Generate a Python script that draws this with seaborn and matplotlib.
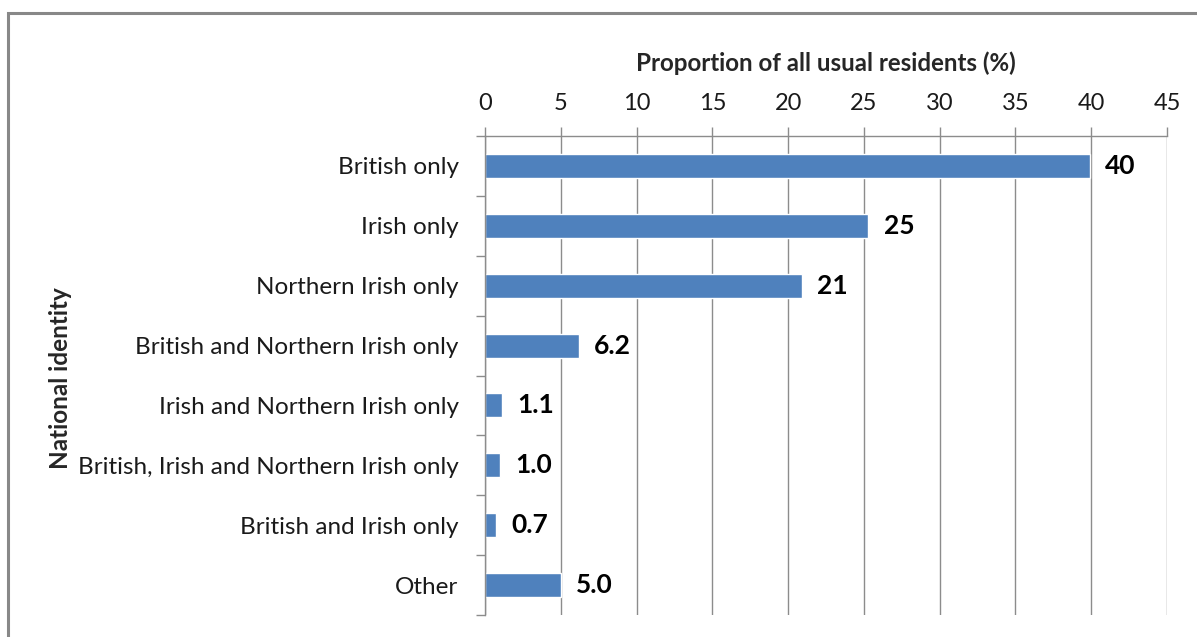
import matplotlib
matplotlib.use("Agg")
import matplotlib.pyplot as plt
import seaborn as sns
import pandas as pd
import numpy as np
from matplotlib.patches import Rectangle

categories = ["British only", "Irish only", "Northern Irish only",
              "British and Northern Irish only", "Irish and Northern Irish only",
              "British, Irish and Northern Irish only", "British and Irish only", "Other"]
values = [39.9, 25.3, 20.9, 6.2, 1.1, 1.0, 0.7, 5.0]
value_labels = ["40", "25", "21", "6.2", "1.1", "1.0", "0.7", "5.0"]
xticks = [0, 5, 10, 15, 20, 25, 30, 35, 40, 45]

sns.set_theme(style="white")
plt.rcParams['font.family'] = ['Lato', 'DejaVu Sans']

df = pd.DataFrame({"identity": categories, "pct": values})

fig = plt.figure(figsize=(11.97, 6.37), dpi=100)
ax = fig.add_axes([485/1197, 1-615/637, (1167-485)/1197, (615-136)/637])

sns.barplot(data=df, x="pct", y="identity", orient="h", color="#4F81BD",
            width=0.4, saturation=1, ax=ax, order=categories)

ax.set_xlim(0, 45)
ax.set_ylim(len(categories)-0.5, -0.5)
ax.set_xticks(xticks)
ax.set_xticklabels([str(t) for t in xticks])
ax.xaxis.tick_top()
ax.xaxis.set_label_position("top")
ax.set_xlabel("Proportion of all usual residents (%)", fontsize=17.4, fontweight="bold", labelpad=16)
ax.set_ylabel("")
ax.grid(axis="x", color="#8c8c8c", linewidth=1.0)
ax.set_axisbelow(True)

for side in ["right", "bottom"]:
    ax.spines[side].set_visible(False)
for side in ["top", "left"]:
    ax.spines[side].set_color("#8c8c8c")
    ax.spines[side].set_linewidth(1.0)

ax.tick_params(axis="x", which="major", direction="out", length=6.5, width=1.0,
               color="#8c8c8c", labelsize=17, pad=9, top=True, bottom=False)
ax.tick_params(axis="y", which="major", length=0, labelsize=17.5, pad=19)
ax.set_yticks(np.arange(-0.5, len(categories)), minor=True)
ax.tick_params(axis="y", which="minor", direction="out", length=6.5, width=1.0,
               color="#8c8c8c", left=True)
for lbl in ax.get_yticklabels() + ax.get_xticklabels():
    lbl.set_color("#1a1a1a")

for i, (v, lab) in enumerate(zip(values, value_labels)):
    ax.annotate(lab, xy=(v, i), xytext=(11, 0), textcoords="offset points",
                ha="left", va="center", fontsize=19, fontweight="bold", color="black")

fig.text(60/1197, 1-378/637, "National identity", rotation=90, ha="center", va="center",
         fontsize=17.5, fontweight="bold")

fig.patches.append(Rectangle((8/1197, -0.1), 1.2, 1-13/637+0.1, transform=fig.transFigure,
                             fill=False, edgecolor="#888888", linewidth=2.2, zorder=10))

fig.savefig("out.png", dpi=100)
